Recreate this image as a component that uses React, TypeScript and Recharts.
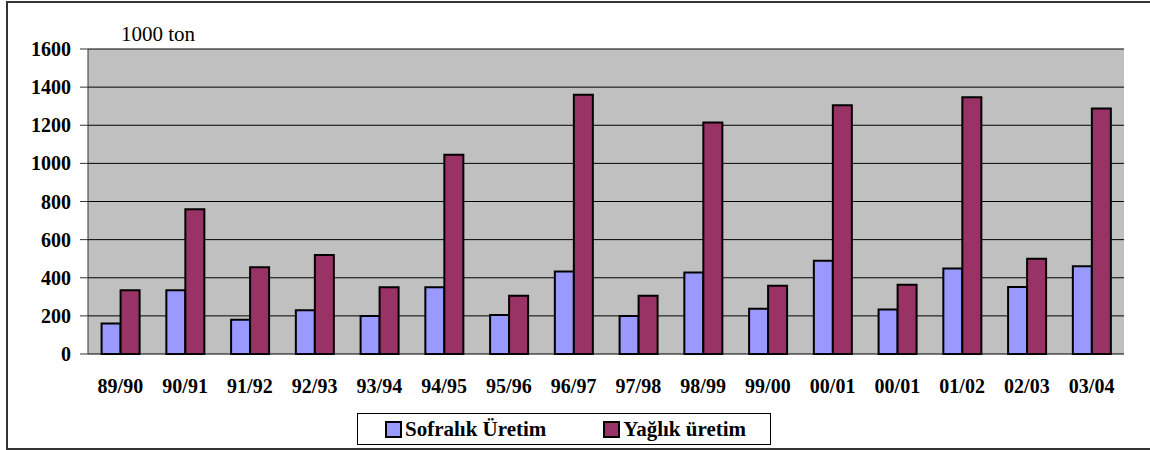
import { BarChart, Bar, XAxis, YAxis, CartesianGrid } from "recharts";

const seasons = [
  "89/90", "90/91", "91/92", "92/93", "93/94", "94/95", "95/96", "96/97",
  "97/98", "98/99", "99/00", "00/01", "00/01", "01/02", "02/03", "03/04",
];
const sofralik = [160, 335, 180, 230, 200, 350, 205, 433, 200, 428, 237, 489, 233, 449, 351, 460];
const yaglik = [335, 760, 455, 520, 350, 1045, 305, 1360, 305, 1215, 358, 1305, 363, 1347, 500, 1288];
const yTicks = [0, 200, 400, 600, 800, 1000, 1200, 1400, 1600];
const edgeTicks = Array.from({ length: seasons.length + 1 }, (_, i) => i);

const data = seasons.map((s, i) => ({
  name: s,
  idx: i,
  sofralik: sofralik[i],
  yaglik: yaglik[i],
}));

const FONT = "Liberation Serif";
const BLUE = "#9999ff";
const RED = "#993366";

const tickStyle = { fontFamily: FONT, fontSize: 20, fontWeight: 700, fill: "#000" };

function LegendItem({ color, label }: { color: string; label: string }) {
  return (
    <div style={{ display: "flex", alignItems: "center" }}>
      <span
        style={{
          display: "inline-block",
          width: 13,
          height: 13,
          background: color,
          border: "2px solid #000",
          marginRight: 3,
        }}
      />
      <span style={{ fontFamily: FONT, fontSize: 21, fontWeight: 700 }}>{label}</span>
    </div>
  );
}

export default function App() {
  return (
    <div
      style={{
        position: "absolute",
        left: 0,
        top: 0,
        width: 1150,
        height: 450,
        background: "#fff",
        overflow: "hidden",
        fontFamily: FONT,
      }}
    >
      {/* outer frame: top, left and bottom edges only */}
      <div
        style={{
          position: "absolute",
          left: 6,
          top: 1,
          width: 1160,
          height: 445,
          borderTop: "2px solid #333",
          borderLeft: "2px solid #333",
          borderBottom: "2px solid #333",
        }}
      />
      <div
        style={{
          position: "absolute",
          left: 121,
          top: 22,
          fontFamily: FONT,
          fontSize: 21,
        }}
      >
        1000 ton
      </div>
      <div style={{ position: "absolute", left: 0, top: 0 }}>
        <BarChart
          width={1150}
          height={450}
          data={data}
          margin={{ top: 49, right: 26, bottom: 56, left: 8 }}
          barGap={0}
          barCategoryGap="21%"
          style={{ fontFamily: FONT }}
        >
          <CartesianGrid fill="#c0c0c0" stroke="#000" vertical={false} />
          {/* tick marks between categories */}
          <XAxis
            xAxisId="edges"
            type="number"
            dataKey="idx"
            domain={[0, seasons.length]}
            ticks={edgeTicks}
            tickFormatter={() => ""}
            height={0}
            tickSize={6}
            tickLine={{ stroke: "#333" }}
            axisLine={{ stroke: "#000", strokeWidth: 1.5 }}
          />
          <XAxis
            dataKey="name"
            height={40}
            interval={0}
            tickLine={false}
            tickSize={0}
            tickMargin={25}
            axisLine={false}
            tick={tickStyle}
          />
          <XAxis
            xAxisId="top"
            orientation="top"
            dataKey="name"
            height={0}
            tick={false}
            tickLine={false}
            axisLine={{ stroke: "#808080", strokeWidth: 2 }}
          />
          <YAxis
            domain={[0, 1600]}
            ticks={yTicks}
            width={80}
            tickSize={8}
            tickMargin={9}
            interval={0}
            tick={tickStyle}
            tickLine={{ stroke: "#333" }}
            axisLine={{ stroke: "#333" }}
          />
          <YAxis
            yAxisId="right"
            orientation="right"
            domain={[0, 1600]}
            width={0}
            tick={false}
            tickLine={false}
            axisLine={{ stroke: "#808080", strokeWidth: 2 }}
          />
          <Bar dataKey="sofralik" fill={BLUE} stroke="#000" strokeWidth={2} isAnimationActive={false} />
          <Bar dataKey="yaglik" fill={RED} stroke="#000" strokeWidth={2} isAnimationActive={false} />
        </BarChart>
      </div>
      <div
        style={{
          position: "absolute",
          left: 357,
          top: 413,
          width: 414,
          height: 32,
          border: "1px solid #000",
          background: "#fff",
          display: "flex",
          alignItems: "center",
          paddingLeft: 27,
          boxSizing: "border-box",
          gap: 57,
        }}
      >
        <LegendItem color={BLUE} label="Sofralık Üretim" />
        <LegendItem color={RED} label="Yağlık üretim" />
      </div>
    </div>
  );
}
